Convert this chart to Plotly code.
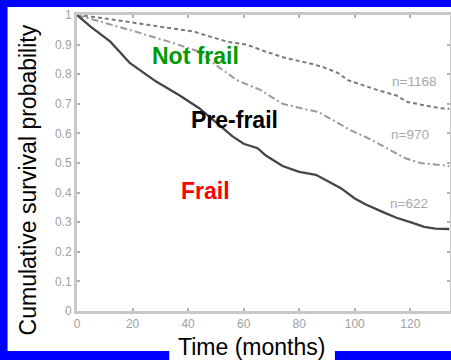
import plotly.graph_objects as go

# ---- data ----
notfrail_months = [0, 9, 21, 33, 42, 54, 61, 68, 75, 84, 88.6, 94, 97.5, 108, 115, 119, 125, 130, 134]
notfrail_surv = [1, 0.99, 0.973, 0.956, 0.944, 0.91, 0.90, 0.876, 0.855, 0.836, 0.824, 0.804, 0.78, 0.747, 0.728, 0.706, 0.695, 0.686, 0.683]

prefrail_months = [0, 9, 21, 33, 44, 49, 57.5, 66, 74, 81, 87, 91.5, 98.6, 104.6, 110.7, 118, 123.6, 130.7, 134]
prefrail_surv = [1, 0.977, 0.944, 0.91, 0.876, 0.838, 0.78, 0.747, 0.70, 0.684, 0.672, 0.648, 0.61, 0.585, 0.554, 0.517, 0.50, 0.493, 0.49]

frail_months = [0, 5, 12, 19, 28.5, 37, 44, 52, 56, 60, 65, 68, 74, 80, 86, 90, 95, 100, 104, 110, 115, 120, 125, 129, 134]
frail_surv = [1, 0.96, 0.91, 0.838, 0.775, 0.728, 0.685, 0.623, 0.59, 0.565, 0.55, 0.525, 0.49, 0.47, 0.46, 0.44, 0.415, 0.38, 0.36, 0.335, 0.315, 0.30, 0.284, 0.278, 0.277]

group_labels = ["Not frail", "Pre-frail", "Frail"]
n_labels = ["n=1168", "n=970", "n=622"]
x_ticks = [0, 20, 40, 60, 80, 100, 120]
y_ticks = [0, 0.1, 0.2, 0.3, 0.4, 0.5, 0.6, 0.7, 0.8, 0.9, 1]
y_ticklabels = ["0", "0.1", "0.2", "0.3", "0.4", "0.5", "0.6", "0.7", "0.8", "0.9", "1"]

FONT = "Arial, Liberation Sans, sans-serif"
W, H = 455, 360          # window is 451 wide; the right frame line falls just outside, as in the reference
L, R, T, B = 77, 2, 15, 49
pw, ph = W - L - R, H - T - B
PX_PER_MONTH = 2.8

def px_x(px):
    return (px - L) / pw

def px_y(py):
    return (H - B - py) / ph

fig = go.Figure()
fig.add_trace(go.Scatter(x=notfrail_months, y=notfrail_surv, mode="lines",
                         line=dict(color="#7a7a7a", width=2, dash="4px,3px"), showlegend=False))
fig.add_trace(go.Scatter(x=prefrail_months, y=prefrail_surv, mode="lines",
                         line=dict(color="#9a9a9a", width=2, dash="7px,3px,2px,3px"), showlegend=False))
fig.add_trace(go.Scatter(x=frail_months, y=frail_surv, mode="lines",
                         line=dict(color="#454545", width=2.3), showlegend=False))

annotations = [
    dict(x=42.7, y=0.861, text="<b>" + group_labels[0] + "</b>", font=dict(color="#009a00", size=23, family=FONT)),
    dict(x=56.8, y=0.645, text="<b>" + group_labels[1] + "</b>", font=dict(color="#000000", size=23, family=FONT)),
    dict(x=46.1, y=0.404, text="<b>" + group_labels[2] + "</b>", font=dict(color="#ff0000", size=23, family=FONT)),
    dict(x=121.25, y=0.775, text=n_labels[0], font=dict(color="#a8a8a8", size=13.5, family=FONT)),
    dict(x=119.8, y=0.595, text=n_labels[1], font=dict(color="#a8a8a8", size=13.5, family=FONT)),
    dict(x=119.5, y=0.363, text=n_labels[2], font=dict(color="#a8a8a8", size=13.5, family=FONT)),
]
for a in annotations:
    a.update(xref="x", yref="y", showarrow=False, xanchor="center", yanchor="middle")

annotations.append(dict(xref="paper", yref="paper", x=px_x(28), y=px_y(180), text="Cumulative survival probability",
                        textangle=-90, showarrow=False, xanchor="center", yanchor="middle",
                        font=dict(size=23, color="black", family=FONT)))
annotations.append(dict(xref="paper", yref="paper", x=px_x(252.5), y=px_y(347), text="Time (months)",
                        showarrow=False, xanchor="center", yanchor="middle",
                        font=dict(size=23, color="black", family=FONT)))

shapes = [
    dict(type="rect", xref="paper", yref="paper", x0=px_x(7), x1=px_x(470), y0=px_y(351), y1=px_y(7),
         fillcolor="white", line=dict(width=0), layer="below"),
    dict(type="rect", xref="paper", yref="paper", x0=px_x(170), x1=px_x(337), y0=px_y(370), y1=px_y(340),
         fillcolor="white", line=dict(width=0), layer="below"),
]

axis_common = dict(showgrid=False, zeroline=False, showline=True, mirror="ticks",
                   linecolor="#c8c8c8", linewidth=3, ticks="inside", ticklen=3,
                   tickcolor="#b0b0b0", tickwidth=2)

fig.update_layout(
    width=W, height=H,
    margin=dict(l=L, r=R, t=T, b=B, pad=0),
    paper_bgcolor="#0000ff",
    plot_bgcolor="white",
    annotations=annotations,
    shapes=shapes,
    xaxis=dict(range=[0, pw / PX_PER_MONTH], tickvals=x_ticks,
               tickfont=dict(size=12, color="#a0a0a0", family=FONT), **axis_common),
    yaxis=dict(range=[0, 1], tickvals=y_ticks, ticktext=y_ticklabels,
               tickfont=dict(size=12, color="#a0a0a0", family=FONT), **axis_common),
)

fig.write_html("out.html", config={"displayModeBar": False},
               post_script="document.body.style.margin='0';document.body.style.padding='0';"
                           "document.body.style.overflow='hidden';")
